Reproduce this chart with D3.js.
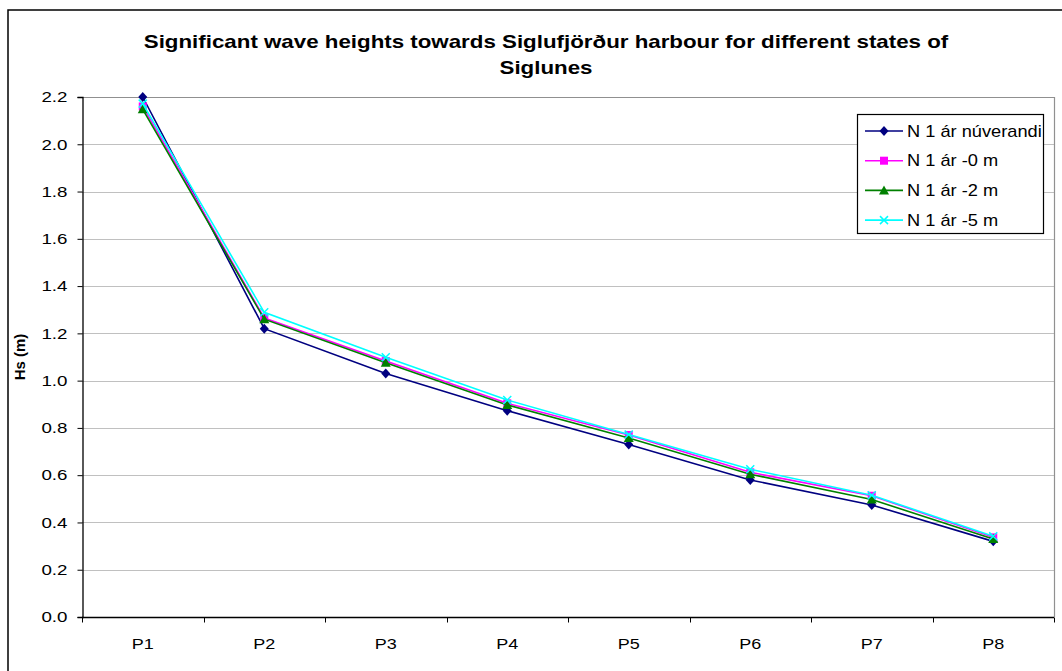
<!DOCTYPE html>
<html>
<head>
<meta charset="utf-8">
<script src="https://cdn.jsdelivr.net/npm/d3@7"></script>
<style>
  html, body { margin: 0; padding: 0; background: #fff; }
  svg { display: block; font-family: "Liberation Sans", Arial, sans-serif; }
</style>
</head>
<body>
<svg id="chart" width="1062" height="671"></svg>
<script>
const categories = ["P1", "P2", "P3", "P4", "P5", "P6", "P7", "P8"];
const seriesNames = ["N 1 ár núverandi", "N 1 ár -0 m", "N 1 ár -2 m", "N 1 ár -5 m"];
const nuverandi = [2.20, 1.22, 1.03, 0.873, 0.73, 0.58, 0.474, 0.32];
const minus0 = [2.16, 1.265, 1.083, 0.904, 0.77, 0.612, 0.513, 0.337];
const minus2 = [2.148, 1.26, 1.076, 0.897, 0.757, 0.604, 0.497, 0.33];
const minus5 = [2.172, 1.289, 1.099, 0.918, 0.772, 0.625, 0.515, 0.342];
const yTicks = [0, 0.2, 0.4, 0.6, 0.8, 1.0, 1.2, 1.4, 1.6, 1.8, 2.0, 2.2];
const titleLines = ["Significant wave heights towards Siglufjörður harbour for different states of", "Siglunes"];
const yTitle = "Hs (m)";

const seriesValues = [nuverandi, minus0, minus2, minus5];
const colors = ["#000080", "#FF00FF", "#008000", "#00FFFF"];
const markers = ["diamond", "square", "triangle", "x"];

const svg = d3.select("#chart");
const plot = { left: 82, right: 1054, top: 97, bottom: 617 };

// outer frame
svg.append("rect").attr("x", 8).attr("y", 10).attr("width", 1080).attr("height", 700)
  .attr("fill", "#fff").attr("stroke", "#000").attr("stroke-width", 1.5);

const x = d3.scaleBand().domain(categories).range([plot.left, plot.right]);
const y = d3.scaleLinear().domain([0, 2.2]).range([plot.bottom, plot.top]);

// gridlines
svg.append("g").selectAll("line").data(yTicks.filter(t => t > 0)).join("line")
  .attr("x1", plot.left).attr("x2", plot.right)
  .attr("y1", d => Math.round(y(d)) + 0.5).attr("y2", d => Math.round(y(d)) + 0.5)
  .attr("stroke", d => d === 2.2 ? "#909090" : "#c0c0c0").attr("stroke-width", 1.2);

// plot right border
svg.append("line").attr("x1", plot.right + 0.5).attr("x2", plot.right + 0.5)
  .attr("y1", plot.top).attr("y2", plot.bottom).attr("stroke", "#909090").attr("stroke-width", 1.2);

// y axis
const yAxis = d3.axisLeft(y).tickValues(yTicks).tickFormat(d3.format(".1f")).tickSize(5).tickPadding(10);
const gy = svg.append("g").attr("transform", `translate(${plot.left + 0.5},0)`).call(yAxis);
gy.select(".domain").attr("stroke", "#000").attr("stroke-width", 1.3);
gy.selectAll(".tick line").attr("stroke", "#000");
gy.selectAll(".tick text").attr("font-size", 15).attr("fill", "#000")
  .attr("font-family", '"Liberation Sans", Arial, sans-serif')
  .attr("x", -12).attr("transform", "scale(1.25,1)");

// x axis with ticks at band boundaries
const gx = svg.append("g").attr("transform", `translate(0,${plot.bottom + 0.5})`);
gx.append("line").attr("x1", plot.left).attr("x2", plot.right).attr("stroke", "#000").attr("stroke-width", 1.3);
const boundaries = categories.map(c => x(c)).concat([plot.right]);
gx.selectAll("line.tk").data(boundaries).join("line").attr("class", "tk")
  .attr("x1", d => Math.round(d) + 0.5).attr("x2", d => Math.round(d) + 0.5)
  .attr("y1", 0).attr("y2", 5).attr("stroke", "#000");
gx.selectAll("text").data(categories).join("text")
  .attr("transform", d => `translate(${x(d) + x.bandwidth() / 2},31) scale(1.2,1)`)
  .attr("text-anchor", "middle").attr("font-size", 15).text(d => d);

// title
svg.append("g").selectAll("text").data(titleLines).join("text")
  .attr("transform", (d, i) => `translate(546,${48 + i * 26}) scale(1.24,1)`)
  .attr("text-anchor", "middle").attr("font-size", 18).attr("font-weight", "bold").text(d => d);

// y title
svg.append("text").attr("transform", "translate(25,357) rotate(-90)")
  .attr("text-anchor", "middle").attr("font-size", 15).attr("font-weight", "bold").text(yTitle);

function drawMarker(g, type, color, cx, cy) {
  if (type === "diamond") {
    g.append("path").attr("d", `M${cx},${cy - 5}L${cx + 4.5},${cy}L${cx},${cy + 5}L${cx - 4.5},${cy}Z`).attr("fill", color);
  } else if (type === "square") {
    g.append("rect").attr("x", cx - 4).attr("y", cy - 4).attr("width", 8).attr("height", 8).attr("fill", color);
  } else if (type === "triangle") {
    g.append("path").attr("d", `M${cx},${cy - 5}L${cx + 5},${cy + 4}L${cx - 5},${cy + 4}Z`).attr("fill", color);
  } else if (type === "x") {
    g.append("path").attr("d", `M${cx - 4},${cy - 4}L${cx + 4},${cy + 4}M${cx - 4},${cy + 4}L${cx + 4},${cy - 4}`)
      .attr("stroke", color).attr("stroke-width", 1.5);
  }
}

const line = d3.line().x((d, i) => x(categories[i]) + x.bandwidth() / 2).y(d => y(d));
seriesValues.forEach((vals, si) => {
  const g = svg.append("g");
  g.append("path").datum(vals).attr("d", line).attr("fill", "none")
    .attr("stroke", colors[si]).attr("stroke-width", 1.6);
  vals.forEach((v, i) => drawMarker(g, markers[si], colors[si], x(categories[i]) + x.bandwidth() / 2, y(v)));
});

// legend
const lg = svg.append("g");
lg.append("rect").attr("x", 857.5).attr("y", 114.5).attr("width", 186).attr("height", 119)
  .attr("fill", "#fff").attr("stroke", "#000").attr("stroke-width", 1.2);
seriesNames.forEach((name, i) => {
  const cy = 131 + i * 29.7;
  lg.append("line").attr("x1", 865).attr("x2", 903).attr("y1", cy).attr("y2", cy)
    .attr("stroke", colors[i]).attr("stroke-width", 1.6);
  drawMarker(lg, markers[i], colors[i], 884, cy);
  lg.append("text").attr("transform", `translate(907,${cy + 5.5}) scale(1.14,1)`)
    .attr("font-size", 16).text(name);
});
</script>
</body>
</html>
